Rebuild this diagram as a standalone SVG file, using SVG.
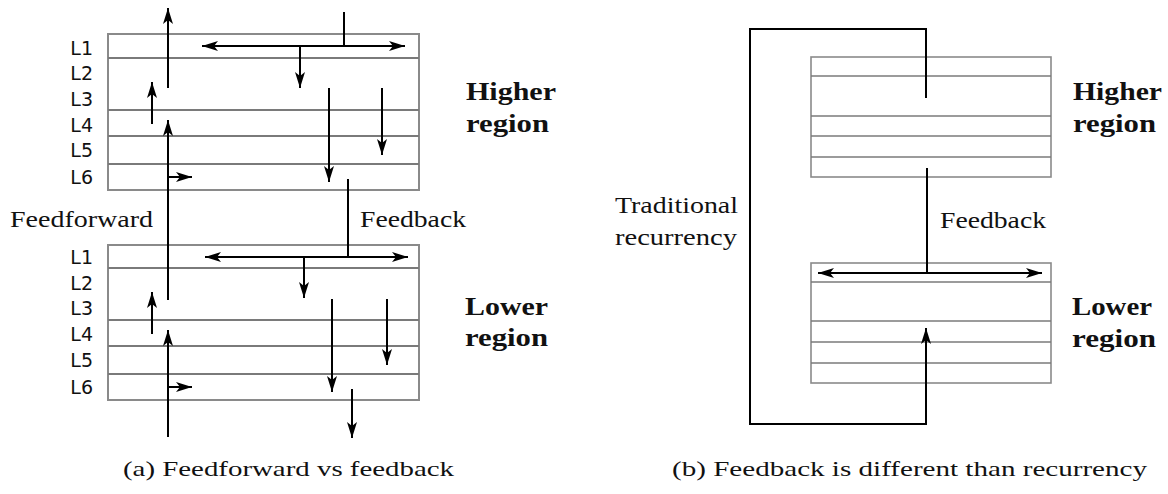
<svg xmlns="http://www.w3.org/2000/svg" width="1168" height="494" viewBox="0 0 1168 494">
<style>
.blk{fill:none;stroke:#8a8a8a;stroke-width:2}
.sep{stroke:#7a7a7a;stroke-width:2}
.blkb{fill:none;stroke:#8a8a8a;stroke-width:1.6}
.sepb{stroke:#7a7a7a;stroke-width:1.6}
.ar{stroke:#000;stroke-width:2;fill:none;marker-end:url(#ah)}
.dar{stroke:#000;stroke-width:2;fill:none;marker-end:url(#ah);marker-start:url(#ah)}
.ln{stroke:#000;stroke-width:2;fill:none}
.lay{font-family:"DejaVu Sans",Verdana,sans-serif;font-size:19px;fill:#111;text-anchor:end}
.lbl{font-family:"Liberation Serif","DejaVu Serif",serif;font-size:24px;fill:#111}
.reg{font-family:"Liberation Serif","DejaVu Serif",serif;font-size:26px;font-weight:bold;fill:#111}
.cap{font-family:"Liberation Serif","DejaVu Serif",serif;font-size:21px;fill:#111}
</style>
<defs>
<marker id="ah" viewBox="0 0 16 10" refX="16" refY="5" markerWidth="16" markerHeight="10" markerUnits="userSpaceOnUse" orient="auto-start-reverse">
<path d="M0,0 L16,5 L0,10 L4,5 z" fill="#000"/>
</marker>
</defs>

<!-- Panel a -->
<g id="a-higher">
<rect class="blk" x="108" y="34" width="311" height="156"/>
<line class="sep" x1="108" y1="58" x2="419" y2="58"/>
<line class="sep" x1="108" y1="110" x2="419" y2="110"/>
<line class="sep" x1="108" y1="136" x2="419" y2="136"/>
<line class="sep" x1="108" y1="164" x2="419" y2="164"/>
<text class="lay" x="93" y="55">L1</text>
<text class="lay" x="93" y="80">L2</text>
<text class="lay" x="93" y="106">L3</text>
<text class="lay" x="93" y="132">L4</text>
<text class="lay" x="93" y="157">L5</text>
<text class="lay" x="93" y="184">L6</text>
<text class="reg" x="466" y="100" textLength="90" lengthAdjust="spacingAndGlyphs">Higher</text>
<text class="reg" x="466" y="132" textLength="83" lengthAdjust="spacingAndGlyphs">region</text>
</g>
<g id="a-lower">
<rect class="blk" x="108" y="245" width="311" height="155"/>
<line class="sep" x1="108" y1="268" x2="419" y2="268"/>
<line class="sep" x1="108" y1="320" x2="419" y2="320"/>
<line class="sep" x1="108" y1="346" x2="419" y2="346"/>
<line class="sep" x1="108" y1="374" x2="419" y2="374"/>
<text class="lay" x="93" y="264">L1</text>
<text class="lay" x="93" y="290">L2</text>
<text class="lay" x="93" y="315">L3</text>
<text class="lay" x="93" y="341">L4</text>
<text class="lay" x="93" y="367">L5</text>
<text class="lay" x="93" y="394">L6</text>
<text class="reg" x="465" y="315" textLength="83" lengthAdjust="spacingAndGlyphs">Lower</text>
<text class="reg" x="465" y="346" textLength="83" lengthAdjust="spacingAndGlyphs">region</text>
</g>
<g id="a-labels">
<text class="lbl" x="10" y="227" textLength="143" lengthAdjust="spacingAndGlyphs">Feedforward</text>
<text class="lbl" x="360" y="227" textLength="106" lengthAdjust="spacingAndGlyphs">Feedback</text>
<text class="cap" x="123" y="476" textLength="331" lengthAdjust="spacingAndGlyphs">(a) Feedforward vs feedback</text>
</g>

<g id="connectors-a">
<line class="ar" x1="168" y1="88" x2="168" y2="8"/>
<line class="ar" x1="152" y1="124" x2="152" y2="82"/>
<line class="ar" x1="168" y1="300" x2="168" y2="120"/>
<line class="ar" x1="168" y1="177" x2="192" y2="177"/>
<line class="dar" x1="202" y1="46" x2="405" y2="46"/>
<line class="ln" x1="344" y1="12" x2="344" y2="46"/>
<line class="ar" x1="300" y1="46" x2="300" y2="88"/>
<line class="ar" x1="329" y1="88" x2="329" y2="182"/>
<line class="ar" x1="382" y1="88" x2="382" y2="155"/>
<line class="ln" x1="348" y1="179" x2="348" y2="257"/>
<line class="dar" x1="205" y1="257" x2="408" y2="257"/>
<line class="ar" x1="304" y1="257" x2="304" y2="298"/>
<line class="ar" x1="332" y1="299" x2="332" y2="392"/>
<line class="ar" x1="387" y1="299" x2="387" y2="365"/>
<line class="ar" x1="352" y1="389" x2="352" y2="438"/>
<line class="ar" x1="152" y1="334" x2="152" y2="292"/>
<line class="ar" x1="168" y1="437" x2="168" y2="330"/>
<line class="ar" x1="168" y1="387" x2="192" y2="387"/>
</g>

<!-- Panel b -->
<g id="b-higher">
<rect class="blkb" x="811" y="57" width="240" height="120"/>
<line class="sepb" x1="811" y1="76" x2="1051" y2="76"/>
<line class="sepb" x1="811" y1="116" x2="1051" y2="116"/>
<line class="sepb" x1="811" y1="136" x2="1051" y2="136"/>
<line class="sepb" x1="811" y1="157" x2="1051" y2="157"/>
<text class="reg" x="1073" y="100" textLength="89" lengthAdjust="spacingAndGlyphs">Higher</text>
<text class="reg" x="1073" y="132" textLength="83" lengthAdjust="spacingAndGlyphs">region</text>
</g>
<g id="b-lower">
<rect class="blkb" x="811" y="263" width="240" height="120"/>
<line class="sepb" x1="811" y1="282" x2="1051" y2="282"/>
<line class="sepb" x1="811" y1="321" x2="1051" y2="321"/>
<line class="sepb" x1="811" y1="342" x2="1051" y2="342"/>
<line class="sepb" x1="811" y1="363" x2="1051" y2="363"/>
<text class="reg" x="1072" y="315" textLength="80" lengthAdjust="spacingAndGlyphs">Lower</text>
<text class="reg" x="1072" y="347" textLength="84" lengthAdjust="spacingAndGlyphs">region</text>
</g>
<g id="b-labels">
<text class="lbl" x="615" y="213" textLength="123" lengthAdjust="spacingAndGlyphs">Traditional</text>
<text class="lbl" x="615" y="245" textLength="122" lengthAdjust="spacingAndGlyphs">recurrency</text>
<text class="lbl" x="940" y="228" textLength="106" lengthAdjust="spacingAndGlyphs">Feedback</text>
<text class="cap" x="672" y="476" textLength="475" lengthAdjust="spacingAndGlyphs">(b) Feedback is different than recurrency</text>
</g>
<g id="connectors-b">
<path class="ln" d="M926,98 V29 H750 V424 H926 V328" style="marker-end:url(#ah)"/>
<line class="ln" x1="927" y1="168" x2="927" y2="273"/>
<line class="dar" x1="818" y1="273" x2="1042" y2="273"/>
</g>
</svg>
